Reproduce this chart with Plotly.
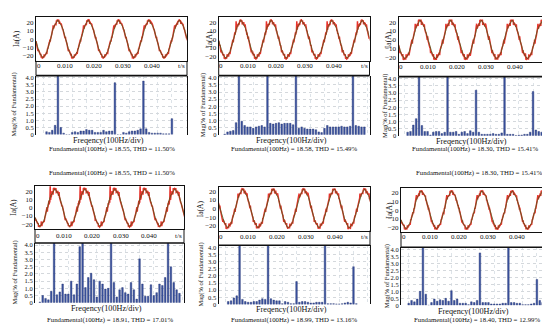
import numpy as np
import plotly.graph_objects as go

W, H = 550, 324
FONT = "Liberation Serif, Times New Roman, serif"

# ---------------- data ----------------
fundamental = [18.55, 18.58, 18.30, 18.91, 18.99, 18.40]
thd = [11.50, 15.49, 15.41, 17.01, 13.16, 12.99]

TALL = 4.6  # bars running off the top of the 0-4 scale

spec_start = [3, 2, 3, 2, 3, 2]
spec_p1 = [0.2, 0.15, 0.3, 0.65, TALL, 0.5, 0.1, 0, 0, 0.15, 0.2, 0.15, 0.25, 0.25, 0.35, 0.3, 0.3,
           0.15, 0.15, 0.15, 0.3, 0.2, 0.25, 0.25, 3.65, 0, 0, 0.15, 0.1, 0.2, 0.25, 0.25, 0.3, 0.4,
           3.77, 0.4, 0.15, 0.1, 0.1, 0.1, 0.1, 0.05, 0.05, 0.05, 1.12]
spec_p2 = [0.05, 0.2, 0.25, 0.3, 0.85, TALL, 0.95, 0.65, 0.55, 0.55, 0.45, 0.55, 0.6, 0.65, 0.55, TALL,
           0.8, 0.75, 0.8, 0.85, 0.75, 0.8, 0.8, 0.8, 0.7, TALL, 0.45, 0.55, 0.45, 0.4, 0.4, 0.4, 0.35,
           0.2, 0.15, 0.45, 0.65, 0.55, 0.55, 0.55, 0.55, 0.6, 0.55, 0.55, 0.6, TALL, 0.65, 0.6, 0.55, 0.55]
spec_p3 = [0.25, 0.3, 0.75, 1.2, TALL, 0.72, 0.3, 0.3, 0.05, 0.25, 0.3, 0.3, 0.15, 0.25, TALL, 0.25,
           0.25, 0.3, 0.1, 0.25, 0.3, 0.15, 0.35, 0.25, 3.2, 0.25, 0.1, 0.1, 0.1, 0.1, 0.15, 0.1, 0.1,
           0.2, TALL, 0.1, 0.1, 0.1, 0.02, 0.05, 0.05, 0.1, 0.1, 0.25, 3.1, 0.4, 0.3, 0.25, 0.2, 0.15]
spec_p4 = [0.05, 0.5, 0.3, 0.2, 0.8, TALL, 0.55, 0.75, 1.3, 0.6, 0.6, 1.5, 0.55, 1.3, 3.9, TALL, 1.05,
           1.75, 2.05, 1.6, 0.4, 1.5, 1.3, 0.95, 1.0, TALL, 1.4, 0.4, 0.9, 1.05, 0.7, 0.6, 1.4, 0.9,
           0.25, 3.05, 1.3, 0.45, 0.45, 1.25, 0.5, 0.7, 1.3, 1.2, 1.75, TALL, 2.5, 1.4, 0.9, 0.65]
spec_p5 = [0.2, 0.25, 0.45, 0.6, TALL, 0.35, 0.2, 0.15, 0.15, 0.2, 0.2, 0.3, 0.4, 0.35, TALL, 0.4, 0.3,
           0.25, 0.25, 0.05, 0.2, 0.15, 0.05, 0.05, 1.6, 0.15, 0.2, 0.2, 0.15, 0.1, 0.1, 0.15, 0.15,
           0.15, TALL, 0.05, 0.05, 0.05, 0.03, 0.03, 0.05, 0.1, 0.15, 0.1, 2.65, 0.05]
spec_p6 = [0.15, 0.35, 0.25, 0.45, 1.0, TALL, 0.8, 0, 0.2, 0.45, 0.3, 0.4, 0.35, 0.5, 0.3, 1.05, 0.35,
           0.45, 0.15, 0.15, 0.15, 0.05, 0.25, 0.2, 0.35, 3.75, 0.2, 0.2, 0.2, 0.1, 0.1, 0.1, 0.1,
           0.15, 0.15, TALL, 0.2, 0.2, 0.15, 0.15, 0.05, 0.05, 0.05, 0.1, 0.15, 1.85, 0.35, 0.2, 0.15, 0.1]
spectra = [spec_p1, spec_p2, spec_p3, spec_p4, spec_p5, spec_p6]

# waveform: peak current amplitude, time of first positive peak, period
wave_amp = [21.5, 21.5, 21.5, 22.0, 22.0, 21.5]
wave_peak_t = [0.0076, 0.0077, 0.0074, 0.0070, 0.0084, 0.0070]
wave_period = 0.0105

mag_ticks = [0, 0.5, 1.0, 1.5, 2.0, 2.5, 3.0, 3.5, 4.0]
mag_ticktext = ["0", "0.5", "1.0", "1.5", "2.0", "2.5", "3.0", "3.5", "4.0"]
time_ticks = [0.0009, 0.01, 0.02, 0.03, 0.04, 0.0503]
time_ticktext = ["0", "0.010", "0.020", "0.030", "0.040", "t/s"]
ia_ticks = [-20, -10, 0, 10, 20]

# ---------------- layout geometry (pixels) ----------------
# left, right, wave_top, wave_bottom, bar_top, bar_bottom, xlabel_y, caption_y, tick_y
geo = [
    (28.0, 179.0, 7.3, 51.7, 66.7, 126.5, 133.0, 141.5, 57.3),
    (210.7, 361.5, 7.3, 52.3, 66.7, 126.7, 132.5, 141.5, 57.3),
    (390.5, 543.0, 7.3, 53.0, 67.7, 127.7, 133.3, 141.5, 57.6),
    (27.0, 176.0, 179.0, 222.5, 236.7, 297.3, 303.0, 314.5, 230.0),
    (210.5, 362.0, 179.3, 224.0, 239.0, 299.0, 304.5, 314.5, 230.5),
    (393.0, 544.0, 180.7, 225.7, 241.0, 300.0, 306.0, 314.5, 231.0),
]
bar_xrange = [(-0.7, 52.3), (-0.1, 52.8), (-0.2, 53.3), (0.3, 52.6), (-0.4, 52.8), (-0.7, 52.3)]
ia_title_x = [8, 201.5, 380.5, 6, 192.7, 380.7]
mag_title_x = [6.5, 195, 376.7, 6.7, 192.7, 379]


def px(x):
    return x / W


def py(y):
    return 1 - y / H


def ax(n):
    return "" if n == 1 else str(n)


def note(text, x, y, size, angle=0, xref="paper"):
    return dict(text=text, x=(px(x) if xref == "paper" else x), y=py(y), xref=xref, yref="paper",
                showarrow=False, xanchor="center", yanchor="middle", textangle=angle,
                font=dict(family=FONT, size=size, color="#111"))


fig = go.Figure()
shapes = []
annotations = []
layout_axes = {}

t = np.linspace(0, 0.0525, 5000)

for k in range(6):
    L, R, wt, wb, bt, bb, xl_y, cap_y, tick_y = geo[k]
    wi, bi = 2 * k + 1, 2 * k + 2
    mags = spectra[k]
    orders = [spec_start[k] + i for i in range(len(mags))]

    # waveform built from the fundamental plus the harmonic magnitudes above
    th = 2 * np.pi * (t - wave_peak_t[k]) / wave_period
    A = wave_amp[k]
    full = A * np.cos(th)
    smooth = A * np.cos(th)
    for n, m in zip(orders, mags):
        comp = A * m / 100.0 * np.cos(n * th + n)
        full = full + comp
        if n <= 12:
            smooth = smooth + comp

    fig.add_trace(go.Scatter(x=t, y=full, mode="lines", line=dict(color="#e8322c", width=1.5),
                             xaxis="x" + ax(wi), yaxis="y" + ax(wi), hoverinfo="skip", showlegend=False))
    fig.add_trace(go.Scatter(x=t, y=smooth, mode="lines", line=dict(color="#3f5e1c", width=0.9),
                             opacity=0.8, xaxis="x" + ax(wi), yaxis="y" + ax(wi),
                             hoverinfo="skip", showlegend=False))
    fig.add_trace(go.Bar(x=orders, y=mags, width=0.56,
                         marker=dict(color="#3d56a3", line=dict(color="#1d2c6b", width=0.4)),
                         xaxis="x" + ax(bi), yaxis="y" + ax(bi), showlegend=False))

    tickfont = dict(family=FONT, size=7, color="#111")
    layout_axes["xaxis" + ax(wi)] = dict(
        domain=[px(L), px(R)], range=[0, 0.0522], anchor="y" + ax(wi),
        showticklabels=False, ticks="",
        showline=True, mirror=True, linecolor="#111", linewidth=1, showgrid=False, zeroline=False)
    layout_axes["yaxis" + ax(wi)] = dict(
        domain=[py(wb), py(wt)], range=[-25.8, 25.8], anchor="x" + ax(wi),
        tickvals=ia_ticks, tickfont=tickfont, ticks="",
        showline=True, mirror=True, linecolor="#111", linewidth=1, showgrid=False, zeroline=False)
    layout_axes["xaxis" + ax(bi)] = dict(
        domain=[px(L), px(R)], range=list(bar_xrange[k]), anchor="y" + ax(bi),
        showticklabels=False, ticks="", showline=False, zeroline=False,
        showgrid=True, gridcolor="#dde3e8", griddash="dot", dtick=5, tick0=2)
    layout_axes["yaxis" + ax(bi)] = dict(
        domain=[py(bb), py(bt)], range=[0, 4.15], anchor="x" + ax(bi),
        tickvals=mag_ticks, ticktext=mag_ticktext, tickfont=dict(family=FONT, size=6.5, color="#111"),
        ticks="", showline=True, mirror=True, linecolor="#111", linewidth=1,
        showgrid=True, gridcolor="#d4d8dc", griddash="dot", zeroline=False)

    # time tick labels in the strip under each waveform
    for tv, tt in zip(time_ticks, time_ticktext):
        annotations.append(note(tt, tv, tick_y, 7, xref="x" + ax(wi)))

    # thick top line of the spectrum frame and the side lines of the tick strip
    shapes.append(dict(type="line", xref="paper", yref="paper", x0=px(L), x1=px(R), y0=py(bt), y1=py(bt),
                       line=dict(color="#111", width=1.6)))
    for xx in (L, R):
        shapes.append(dict(type="line", xref="paper", yref="paper", x0=px(xx), x1=px(xx),
                           y0=py(wb), y1=py(bt), line=dict(color="#111", width=1)))

    cx = (L + R) / 2
    annotations.append(note("Ia(A)", ia_title_x[k], (wt + wb) / 2, 7.5, -90))
    annotations.append(note("Mag(% of Fundamental)", mag_title_x[k], (bt + bb) / 2, 6.5, -90))
    annotations.append(note("Freqency(100Hz/div)", cx - 3, xl_y, 8.2))
    cap = f"Fundamental(100Hz) = {fundamental[k]:.2f}, THD = {thd[k]:.2f}%"
    annotations.append(note(cap, cx, cap_y, 6.8))
    if k in (0, 2):
        annotations.append(note(cap, cx + (0 if k == 0 else 4), 166, 6.8))

fig.update_layout(
    width=W, height=H, margin=dict(l=0, r=0, t=0, b=0),
    paper_bgcolor="white", plot_bgcolor="white",
    showlegend=False, shapes=shapes, annotations=annotations,
    font=dict(family=FONT, size=7, color="#111"),
    **layout_axes)

fig.write_html("out.html")
